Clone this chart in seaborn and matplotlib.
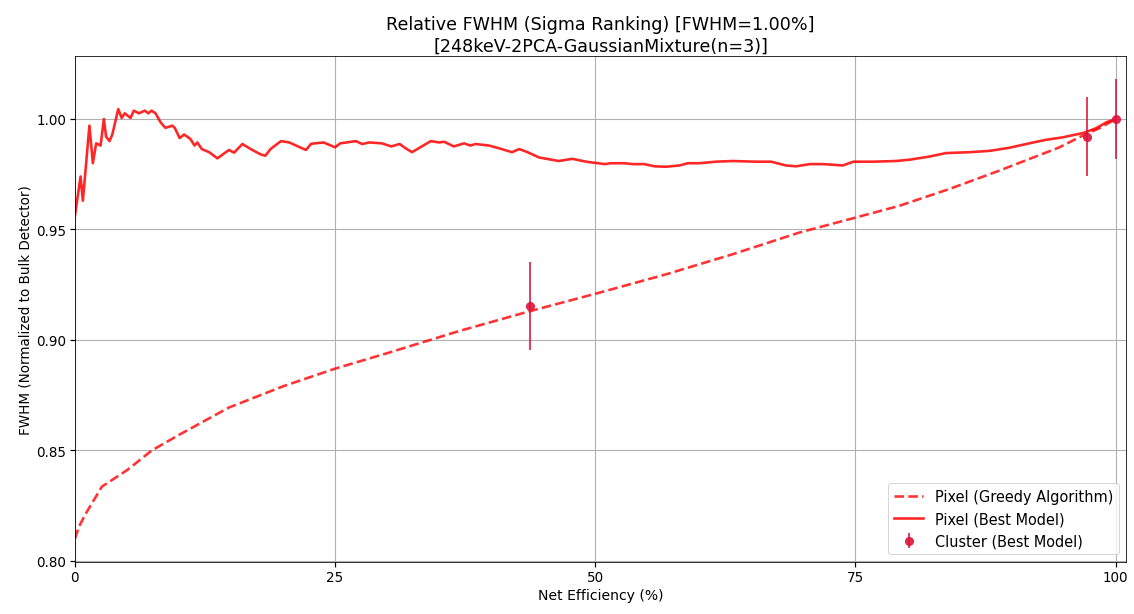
import numpy as np
import pandas as pd
import seaborn as sns
import matplotlib
matplotlib.use("Agg")
import matplotlib.pyplot as plt

# greedy pixel selection (dashed)
x_greedy = [0.0, 0.4, 1.0, 2.6, 5.0, 7.4, 10.0, 14.8, 20.0, 25.0, 30.0, 36.9, 43.7,
            50.4, 56.8, 63.2, 69.6, 74.7, 79.2, 84.0, 88.8, 91.7, 94.5, 96.8, 98.5, 100.0]
y_greedy = [0.810, 0.8155, 0.821, 0.8336, 0.841, 0.850, 0.857, 0.8694, 0.879, 0.887, 0.894,
            0.904, 0.913, 0.9214, 0.9297, 0.9388, 0.9486, 0.955, 0.9607, 0.9683, 0.9766,
            0.9819, 0.987, 0.9924, 0.996, 1.000]

# best model pixel selection (solid)
x_best = [0.0, 0.55, 0.77, 1.4, 1.73, 2.05, 2.47, 2.79, 3.0, 3.33, 3.6, 4.17, 4.5, 4.8,
          5.35, 5.67, 6.15, 6.73, 7.05, 7.37, 7.75, 8.24, 8.7, 9.36, 9.6, 10.07, 10.5,
          11.1, 11.5, 11.76, 12.2, 12.9, 13.7, 14.8, 15.3, 16.1, 16.9, 17.85, 18.3, 18.8,
          19.8, 20.6, 22.2, 22.7, 23.9, 25.0, 25.5, 27.0, 27.6, 28.3, 29.5, 30.4, 31.2,
          31.8, 32.4, 34.2, 35.0, 35.5, 36.4, 37.4, 38.0, 38.5, 39.8, 40.8, 42.0, 42.7,
          43.5, 44.6, 46.5, 47.8, 48.8, 49.4, 50.3, 50.9, 51.5, 52.8, 53.6, 54.7, 55.7,
          56.8, 58.1, 58.9, 60.0, 61.6, 63.2, 65.4, 66.9, 68.3, 69.3, 70.6, 71.9, 73.8,
          74.8, 76.7, 78.9, 80.2, 82.1, 83.7, 86.0, 87.9, 89.8, 91.7, 93.3, 94.9, 96.9,
          98.1, 99.1, 100.0]
y_best = [0.956, 0.974, 0.963, 0.997, 0.980, 0.989, 0.988, 1.000, 0.992, 0.990, 0.993,
          1.0045, 1.0005, 1.0026, 1.0005, 1.0038, 1.0026, 1.0038, 1.0026, 1.0038, 1.0026,
          0.9985, 0.996, 0.997, 0.996, 0.9914, 0.993, 0.991, 0.988, 0.9894, 0.9864, 0.985,
          0.9822, 0.986, 0.9848, 0.9887, 0.9864, 0.984, 0.9834, 0.9864, 0.990, 0.9894,
          0.986, 0.9888, 0.9894, 0.9872, 0.989, 0.990, 0.9887, 0.9894, 0.989, 0.9876,
          0.9887, 0.9867, 0.985, 0.990, 0.9894, 0.9897, 0.9876, 0.989, 0.988, 0.9887,
          0.988, 0.9867, 0.985, 0.9864, 0.985, 0.9826, 0.981, 0.982, 0.981, 0.9805, 0.980,
          0.9796, 0.980, 0.980, 0.9796, 0.9796, 0.9786, 0.9784, 0.979, 0.980, 0.980,
          0.9807, 0.981, 0.9807, 0.9807, 0.979, 0.9786, 0.9796, 0.9796, 0.979, 0.9807,
          0.9807, 0.981, 0.9816, 0.983, 0.9846, 0.985, 0.9856, 0.987, 0.989, 0.9906,
          0.9917, 0.9937, 0.9958, 0.9985, 1.000]

# cluster selection (best model) with errors
x_cluster = [43.7, 97.2, 100.0]
y_cluster = [0.9155, 0.992, 1.000]
err_cluster = [0.020, 0.018, 0.018]

df_greedy = pd.DataFrame({"eff": x_greedy, "fwhm": y_greedy})
df_best = pd.DataFrame({"eff": x_best, "fwhm": y_best})

fig, ax = plt.subplots(figsize=(15.75, 8.54), dpi=72)
fig.subplots_adjust(left=0.066, right=0.993, top=0.907, bottom=0.085)

sns.lineplot(data=df_greedy, x="eff", y="fwhm", ax=ax, color="red", alpha=0.8,
             linestyle="--", linewidth=2.6, label="Pixel (Greedy Algorithm)")
sns.lineplot(data=df_best, x="eff", y="fwhm", ax=ax, color="red", alpha=0.85,
             linewidth=2.6, label="Pixel (Best Model)")
ax.errorbar(x_cluster, y_cluster, yerr=err_cluster, fmt="o", color="crimson",
            markersize=8, elinewidth=1.8, alpha=0.9, label="Cluster (Best Model)")

ax.set_xlim(0, 101)
ax.set_xticks([0, 25, 50, 75, 100])
ax.set_yticks([0.80, 0.85, 0.90, 0.95, 1.00])
ax.tick_params(labelsize=13.5, width=1.2, length=5)
ax.grid(True, linewidth=1.1)
ax.set_xlabel("Net Efficiency (%)", fontsize=14)
ax.set_ylabel("FWHM (Normalized to Bulk Detector)", fontsize=13.5)
ax.set_title("Relative FWHM (Sigma Ranking) [FWHM=1.00%]\n"
             "[248keV-2PCA-GaussianMixture(n=3)]",
             fontsize=17.5, linespacing=1.3, pad=5)
ax.legend(loc="lower right", fontsize=14.5)

plt.savefig("out.png", dpi=72)
